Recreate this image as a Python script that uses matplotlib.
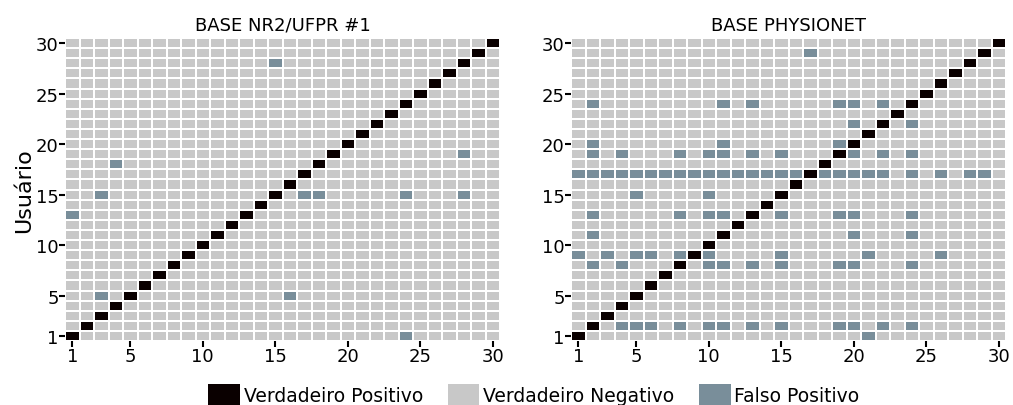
import numpy as np
import matplotlib.pyplot as plt
from matplotlib.colors import ListedColormap, BoundaryNorm
from matplotlib.patches import Patch

n_users = 30
titles = ['BASE NR2/UFPR #1', 'BASE PHYSIONET']
labels = ['Verdadeiro Positivo', 'Verdadeiro Negativo', 'Falso Positivo']
colors = ['#0a0000', '#c8c8c8', '#798e9a']
ticks = [1, 5, 10, 15, 20, 25, 30]

# falsos positivos (coluna, linha)
nr2_fp_x = [15, 4, 28, 3, 17, 18, 24, 28, 1, 3, 16, 24]
nr2_fp_y = [28, 18, 19, 15, 15, 15, 15, 15, 13, 5, 5, 1]

row17 = list(range(1, 17)) + [18, 19, 20, 21, 22, 24, 26, 28, 29]
physio_fp_x = ([17] + [2, 11, 13, 19, 20, 22] + [20, 24] + [2, 11, 19]
               + [2, 4, 8, 10, 11, 13, 15, 20, 22, 24] + row17 + [5, 10]
               + [2, 8, 10, 11, 15, 19, 20, 24] + [2, 20, 24]
               + [1, 3, 5, 6, 8, 10, 15, 21, 26]
               + [2, 4, 10, 11, 13, 15, 19, 20, 24]
               + [4, 5, 6, 8, 10, 11, 13, 15, 19, 20, 22, 24] + [21])
physio_fp_y = ([29] + [24] * 6 + [22] * 2 + [20] * 3 + [19] * 10
               + [17] * len(row17) + [15] * 2 + [13] * 8 + [11] * 3
               + [9] * 9 + [8] * 9 + [2] * 12 + [1])


def build(fp_x, fp_y):
    m = np.ones((n_users, n_users))
    for i in range(n_users):
        m[i, i] = 0
    for x, y in zip(fp_x, fp_y):
        m[y - 1, x - 1] = 2
    return m


mats = [build(nr2_fp_x, nr2_fp_y), build(physio_fp_x, physio_fp_y)]

cmap = ListedColormap(colors)
norm = BoundaryNorm([-0.5, 0.5, 1.5, 2.5], cmap.N)
edges = np.arange(0.5, n_users + 1, 1)

fig = plt.figure(figsize=(10.13, 4.06), dpi=100)
lefts = [65 / 1013, 571 / 1013]
for k in range(2):
    ax = fig.add_axes([lefts[k], 64 / 406, 435 / 1013, 303 / 406])
    for t in ticks:
        ax.axvline(t, color='#ebebeb', lw=0.8, zorder=0)
        ax.axhline(t, color='#ebebeb', lw=0.8, zorder=0)
    ax.pcolormesh(edges, edges, mats[k], cmap=cmap, norm=norm,
                  edgecolors='white', linewidth=1.2, zorder=1)
    ax.set_xlim(0.5, n_users + 0.5)
    ax.set_ylim(0.5, n_users + 0.5)
    ax.set_xticks(ticks)
    ax.set_yticks(ticks)
    ax.tick_params(labelsize=13, length=4, width=1.5, pad=0.5, colors='black')
    for s in ax.spines.values():
        s.set_visible(False)
    ax.set_title(titles[k], fontsize=13, pad=6)
    if k == 0:
        ax.set_ylabel('Usuário', fontsize=16, labelpad=1)

handles = [Patch(facecolor=c, edgecolor='none') for c in colors]
fig.legend(handles, labels, loc='lower center', ncol=3, frameon=False,
           fontsize=13.5, handlelength=1.7, handleheight=1.5,
           handletextpad=0.2, columnspacing=1.3,
           bbox_to_anchor=(0.527, -0.045))

fig.savefig('out.png', dpi=100)
